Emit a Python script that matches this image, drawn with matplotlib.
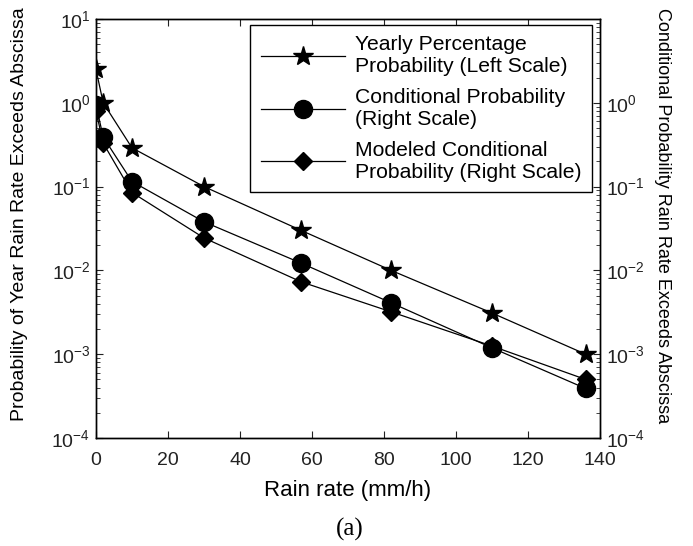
import numpy as np
import matplotlib.pyplot as plt
from matplotlib.ticker import LogLocator, NullFormatter

plt.rcParams['font.family'] = ['Liberation Sans', 'DejaVu Sans']
plt.rcParams['mathtext.fontset'] = 'custom'
plt.rcParams['mathtext.rm'] = 'Liberation Sans'

# rain rate (mm/h)
rain_rate = [0, 2, 10, 30, 57, 82, 110, 136]
# yearly percentage probability (left scale)
yearly_pct = [2.5, 1.0, 0.29, 0.1, 0.030, 0.010, 0.0031, 0.001]
# conditional probability (right scale)
cond_prob = [0.95, 0.39, 0.115, 0.038, 0.0122, 0.0041, 0.00119, 0.00039]
# modeled conditional probability (right scale)
model_prob = [0.80, 0.33, 0.085, 0.0244, 0.0073, 0.0032, 0.00125, 0.00050]

labels = ['Yearly Percentage\nProbability (Left Scale)',
          'Conditional Probability\n(Right Scale)',
          'Modeled Conditional\nProbability (Right Scale)']

fig = plt.figure(figsize=(6.93, 5.46), dpi=100)
ax = fig.add_axes([0.1385, 0.1978, 0.8658 - 0.1385, 0.9652 - 0.1978])
ax2 = ax.twinx()

lw = 0.9
l1, = ax.plot(rain_rate, yearly_pct, 'k-', marker='*', markersize=15, lw=lw)
l2, = ax2.plot(rain_rate, cond_prob, 'k-', marker='o', markersize=13, lw=lw)
l3, = ax2.plot(rain_rate, model_prob, 'k-', marker='D', markersize=9, lw=lw)

for a in (ax, ax2):
    a.set_yscale('log')
    a.set_ylim(1e-4, 1e1)
    a.set_xlim(0, 140)
    a.yaxis.set_minor_locator(LogLocator(base=10, subs=np.arange(2, 10), numticks=20))
    a.yaxis.set_minor_formatter(NullFormatter())
    a.tick_params(which='both', direction='in', labelsize=14, colors='#222222')
    a.tick_params(which='major', length=5)
    a.tick_params(which='minor', length=3)
    for s in a.spines.values():
        s.set_linewidth(1.0)

ax.set_yticks([1e-4, 1e-3, 1e-2, 1e-1, 1e0, 1e1])
ax2.set_yticks([1e-4, 1e-3, 1e-2, 1e-1, 1e0])
ax.set_xticks(np.arange(0, 141, 20))
ax.tick_params(axis='x', top=True, pad=10)
ax.tick_params(axis='y', pad=4)
ax2.tick_params(axis='y', pad=4)

ax.set_xlabel('Rain rate (mm/h)', fontsize=16, labelpad=8)
ax.set_ylabel('Probability of Year Rain Rate Exceeds Abscissa', fontsize=14)
ax.yaxis.label.set_va('center')
ax.yaxis.set_label_coords(-0.152, 0.535)
ax2.set_ylabel('Conditional Probability Rain Rate Exceeds Abscissa', fontsize=13,
               rotation=-90)
ax2.yaxis.label.set_va('center')
ax2.yaxis.set_label_coords(1.124, 0.53)

leg = ax.legend([l1, l2, l3], labels, loc='upper right', bbox_to_anchor=(0.984, 0.986),
                borderaxespad=0, fontsize=15.2, handlelength=4.0, handletextpad=0.45,
                labelspacing=0.55, fancybox=False, edgecolor='black', framealpha=1,
                borderpad=0.5)
leg.get_frame().set_linewidth(1.0)

fig.text(0.505, 0.03, '(a)', ha='center', va='center', fontsize=18,
         family=['Liberation Serif', 'DejaVu Serif'])

fig.savefig('out.png', dpi=100)
